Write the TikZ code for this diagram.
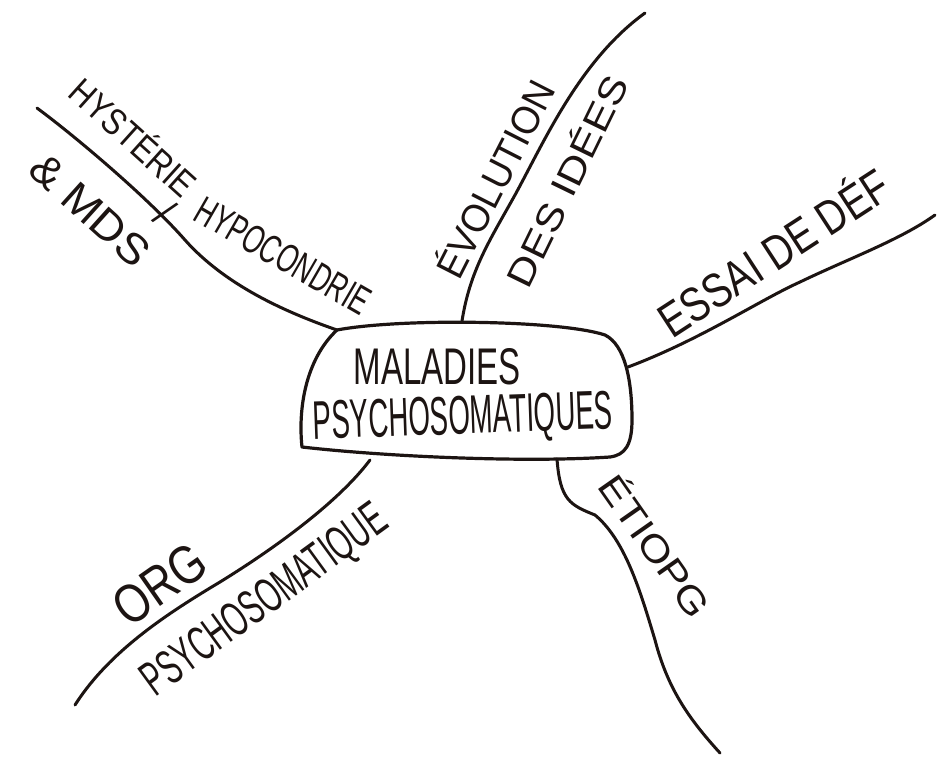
\documentclass[tikz,border=0pt]{standalone}
\usepackage{fontspec}
\usepackage{graphicx}
\setmainfont{Liberation Sans}
\definecolor{ink}{RGB}{28,20,18}
\newcommand{\hw}[3]{\resizebox{#1pt}{#2pt}{#3}}
\begin{document}
\begin{tikzpicture}[x=1pt,y=-1pt,
  branch/.style={draw=ink,line width=3pt,line cap=round,line join=round},
  blob/.style={draw=ink,line width=3.2pt,line join=round},
  lab/.style={inner sep=0pt,text=ink}]
\useasboundingbox[fill=white] (0,0) rectangle (945,763);

% central shape
\draw[blob] (337,330) .. controls (400,318) and (560,320) .. (605,335)
  .. controls (625,345) and (632,380) .. (632,420)
  .. controls (632,445) and (625,455) .. (610,457)
  .. controls (520,463) and (380,456) .. (302,447)
  .. controls (298,410) and (305,360) .. (337,330) -- cycle;
\node[lab] (t1) at (437,367) {\hw{167}{36}{MALADIES}};
\node[lab,rotate=2] (t2) at (463,420) {\hw{300}{38}{PSYCHOSOMATIQUES}};

% anchor points on the shape and free ends
\coordinate (b1) at (337,330);
\coordinate (b2) at (462,321);
\coordinate (b3) at (628,367);
\coordinate (b4) at (370,460);
\coordinate (b5) at (557,459);
\coordinate (e1) at (37,108);
\coordinate (e2) at (645,13);
\coordinate (e3) at (935,215);
\coordinate (e4) at (75,705);
\coordinate (e5) at (720,753);

% branches
\draw[branch] (b1) .. controls (285,312) and (225,285) .. (185,240)
  .. controls (150,200) and (80,140) .. (e1);
\draw[branch] (b2) .. controls (470,270) and (490,240) .. (515,195)
  .. controls (545,140) and (580,60) .. (e2);
\draw[branch] (b3) .. controls (700,340) and (760,300) .. (800,282)
  .. controls (850,258) and (900,240) .. (e3);
\draw[branch] (b4) .. controls (340,500) and (280,545) .. (220,582)
  .. controls (170,612) and (110,650) .. (e4);
\draw[branch] (b5) .. controls (560,500) and (570,505) .. (595,515)
  .. controls (625,540) and (640,590) .. (655,640)
  .. controls (668,690) and (690,720) .. (e5);

% labels
\node[lab,rotate=-42] (l1) at (135,136) {\hw{155}{32}{HYSTÉRIE}};
\node[lab,rotate=-42] (l1s) at (165,213) {\hw{10}{30}{/}};
\node[lab,rotate=-30] (l2) at (283,256) {\hw{195}{28}{HYPOCONDRIE}};
\node[lab,rotate=-42] (l3) at (90,210) {\hw{145}{30}{\& MDS}};
\node[lab,rotate=63] (l4) at (493,178) {\hw{215}{34}{ÉVOLUTION}};
\node[lab,rotate=64] (l5) at (565,180) {\hw{230}{32}{DES IDÉES}};
\node[lab,rotate=33] (l6) at (772,250) {\hw{265}{42}{ESSAI DE DÉF}};
\node[lab,rotate=35] (l7) at (160,584) {\hw{100}{38}{ORG}};
\node[lab,rotate=36] (l8) at (266,602) {\hw{290}{34}{PSYCHOSOMATIQUE}};
\node[lab,rotate=-55] (l9) at (657,545) {\hw{165}{32}{ÉTIOPG}};
\end{tikzpicture}
\end{document}
